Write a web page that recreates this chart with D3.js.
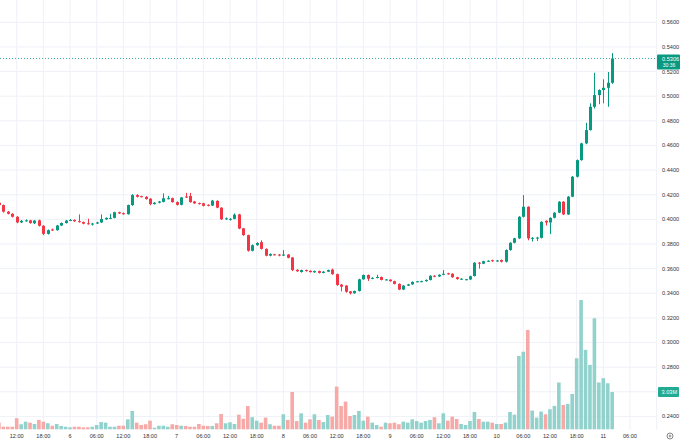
<!DOCTYPE html>
<html>
<head>
<meta charset="utf-8">
<script src="https://cdn.jsdelivr.net/npm/d3@7"></script>
<style>
  body { margin: 0; background: #fff; }
  svg { display: block; font-family: "Liberation Sans", Arial, sans-serif; }
</style>
</head>
<body>
<script>
const width = 680;
const height = 443;

// hourly candles, first one at day 5 08:00
const startTime = Date.UTC(2024, 2, 5, 8);

const opens = [
  .4135, .4116, .4062, .4045, .4021, .3975, .3985, .3992, .3968, .3992,
  .3948, .3882, .3918, .3912, .3950, .3970, .3990, .3995, .3985, .3978,
  .3968, .3958, .3966, .3975, .4000, .4008, .4012, .4058, .4050, .4042,
  .4116, .4197, .4188, .4183, .4168, .4124, .4135, .4142, .4168, .4172,
  .4140, .4118, .4185, .4190, .4145, .4132, .4130, .4118, .4112, .4150,
  .4095, .4000, .3996, .4004, .4040, .3927, .3872, .3745, .3790, .3815,
  .3760, .3705, .3716, .3714, .3706, .3714, .3690, .3590, .3572, .3588,
  .3582, .3570, .3580, .3565, .3575, .3592, .3555, .3470, .3462, .3415,
  .3400, .3418, .3513, .3548, .3518, .3525, .3532, .3508, .3510, .3498,
  .3476, .3430, .3462, .3472, .3492, .3494, .3498, .3508, .3542, .3536,
  .3550, .3562, .3558, .3530, .3513, .3510, .3512, .3540, .3648, .3640,
  .3660, .3668, .3660, .3670, .3656, .3751, .3810, .3846, .4021, .4102,
  .3846, .3846, .3850, .3988, .3975, .4013, .4054, .4143, .4040, .4184,
  .4346, .4481, .4617, .4725, .4914, .5009, .5050, .5068, .5109
];

const highs = [
  .4140, .4120, .4068, .4050, .4025, .3995, .4000, .3996, .3995, .3998,
  .3952, .3918, .3925, .3955, .3975, .3995, .4002, .4000, .4040, .3982,
  .4005, .3972, .3980, .4040, .4016, .4045, .4062, .4062, .4056, .4120,
  .4205, .4205, .4192, .4188, .4172, .4140, .4150, .4211, .4190, .4176,
  .4145, .4182, .4215, .4215, .4150, .4136, .4134, .4122, .4158, .4155,
  .4098, .4015, .4010, .4048, .4045, .3930, .3876, .3796, .3815, .3830,
  .3764, .3724, .3720, .3718, .3750, .3718, .3694, .3596, .3592, .3592,
  .3586, .3584, .3584, .3580, .3592, .3600, .3560, .3476, .3466, .3418,
  .3422, .3518, .3552, .3552, .3530, .3550, .3536, .3515, .3514, .3502,
  .3480, .3466, .3476, .3496, .3500, .3502, .3512, .3546, .3546, .3554,
  .3588, .3566, .3562, .3534, .3522, .3516, .3542, .3652, .3654, .3664,
  .3668, .3672, .3670, .3674, .3756, .3814, .3850, .4026, .4197, .4106,
  .3856, .3858, .3984, .3992, .4016, .4058, .4148, .4148, .4190, .4352,
  .4486, .4622, .4784, .4942, .5190, .5056, .5137, .5196, .5350
];

const lows = [
  .4110, .4055, .4040, .4015, .3968, .3970, .3980, .3965, .3962, .3942,
  .3872, .3876, .3905, .3908, .3946, .3966, .3986, .3980, .3974, .3960,
  .3958, .3950, .3962, .3970, .3996, .4002, .4008, .4044, .4038, .4038,
  .4110, .4178, .4178, .4160, .4115, .4120, .4130, .4138, .4162, .4136,
  .4112, .4114, .4175, .4135, .4125, .4120, .4105, .4106, .4108, .4090,
  .3995, .3996, .3990, .4000, .3920, .3866, .3738, .3740, .3786, .3755,
  .3700, .3700, .3708, .3700, .3702, .3684, .3580, .3574, .3568, .3576,
  .3568, .3566, .3560, .3562, .3572, .3550, .3460, .3415, .3405, .3390,
  .3396, .3414, .3510, .3500, .3514, .3520, .3504, .3504, .3494, .3472,
  .3425, .3426, .3458, .3468, .3488, .3490, .3494, .3504, .3530, .3532,
  .3546, .3550, .3526, .3510, .3508, .3505, .3508, .3536, .3600, .3636,
  .3656, .3655, .3656, .3650, .3650, .3745, .3805, .3840, .4015, .3830,
  .3820, .3825, .3845, .3950, .3880, .4008, .4050, .4035, .4035, .4180,
  .4340, .4476, .4610, .4720, .4900, .4935, .4942, .4914, .5100
];

const closes = [
  .4116, .4062, .4045, .4021, .3975, .3988, .3992, .3970, .3990, .3948,
  .3882, .3912, .3912, .3950, .3970, .3990, .3995, .3985, .3978, .3965,
  .3962, .3966, .3975, .4003, .4012, .4012, .4058, .4048, .4042, .4116,
  .4197, .4183, .4182, .4165, .4124, .4135, .4145, .4171, .4172, .4140,
  .4118, .4178, .4180, .4140, .4130, .4126, .4110, .4112, .4152, .4095,
  .4000, .4008, .4004, .4038, .3925, .3872, .3745, .3790, .3808, .3760,
  .3705, .3718, .3712, .3706, .3714, .3688, .3588, .3578, .3588, .3580,
  .3572, .3580, .3565, .3575, .3588, .3555, .3467, .3453, .3412, .3400,
  .3418, .3513, .3548, .3518, .3525, .3532, .3508, .3512, .3498, .3476,
  .3430, .3462, .3472, .3492, .3497, .3498, .3508, .3542, .3536, .3550,
  .3558, .3555, .3530, .3515, .3518, .3514, .3538, .3648, .3640, .3660,
  .3664, .3660, .3666, .3656, .3751, .3810, .3846, .4021, .4102, .3846,
  .3850, .3852, .3980, .3975, .4012, .4054, .4143, .4040, .4184, .4346,
  .4481, .4617, .4725, .4914, .5009, .5050, .5068, .5109, .5306
];

// volume in millions
const volumes = [
  .54, .21, .21, .21, .90, .41, .62, .54, .43, .76,
  .62, .49, .29, .43, .27, .21, .16, .21, .21, .16,
  .16, .21, .35, .59, .54, .21, .21, .29, .29, .81,
  1.49, .54, .35, .41, .70, .13, .29, .29, .21, .41,
  .35, .29, .27, .21, .21, .43, .29, .27, .27, .49,
  1.24, .49, .57, .43, 1.19, .86, 1.89, .98, .70, .54,
  .95, .41, .29, .29, 1.22, .76, 3.03, .67, 1.30, .54,
  .81, 1.22, .76, .59, 1.16, 1.03, 3.47, 1.89, 2.25, 1.08,
  1.16, 1.49, .70, 1.03, .54, .35, .21, .54, .49, .54,
  .41, .62, .54, .81, .67, .54, .67, .76, .98, .49,
  1.30, .70, 1.03, .84, .43, .35, .67, 1.41, .84, .62,
  .62, .54, .43, .43, .54, 1.41, 1.19, 5.96, 6.30, 8.07,
  1.52, .95, 1.44, 1.22, 1.63, 1.90, 3.80, 1.98, 2.06, 2.87,
  5.77, 10.5, 6.45, 5.23, 9.02, 3.80, 4.15, 3.74, 3.03
];

const priceTicks = [0.24, 0.26, 0.28, 0.30, 0.32, 0.34, 0.36, 0.38, 0.40, 0.42,
  0.44, 0.46, 0.48, 0.50, 0.52, 0.54, 0.56, 0.58];

const lastPrice = 0.5306;
const countdown = '30:36';
const lastVolumeLabel = '3.03M';

const upColor = '#089981';
const downColor = '#f23645';
const upVol = '#92d2cc';
const downVol = '#f7a9a7';
const gridColor = '#eef1f7';
const textColor = '#333';

const candles = opens.map((o, i) => ({
  time: new Date(startTime + i * 3600e3),
  open: o, high: highs[i], low: lows[i], close: closes[i], volume: volumes[i]
}));

const plotRight = 656;

const x = d3.scaleUtc()
  .domain([new Date(Date.UTC(2024, 2, 5, 12)), new Date(Date.UTC(2024, 2, 11, 0))])
  .range([16.7, 603.3]);

const y = d3.scaleLinear()
  .domain([0.24, 0.56])
  .range([416.4, 22.3]);

const yVol = d3.scaleLinear()
  .domain([0, 10.5])
  .range([429.3, 300]);

const svg = d3.select('body')
  .append('svg')
  .attr('width', width)
  .attr('height', height);

// grid
const timeTicks = d3.utcHour.every(6).range(x.invert(-20), x.invert(plotRight + 10));

svg.append('g')
  .selectAll('line')
  .data(timeTicks)
  .join('line')
  .attr('x1', d => x(d)).attr('x2', d => x(d))
  .attr('y1', 0).attr('y2', 430)
  .attr('stroke', gridColor);

svg.append('g')
  .selectAll('line')
  .data(priceTicks)
  .join('line')
  .attr('x1', 0).attr('x2', plotRight)
  .attr('y1', d => y(d)).attr('y2', d => y(d))
  .attr('stroke', gridColor);

// volume
const barW = 3.6;
svg.append('g')
  .selectAll('rect')
  .data(candles)
  .join('rect')
  .attr('x', d => x(d.time) - barW / 2)
  .attr('width', barW)
  .attr('y', d => yVol(d.volume))
  .attr('height', d => yVol(0) - yVol(d.volume))
  .attr('fill', d => d.close >= d.open ? upVol : downVol);

// candles
const bodyW = 3;
const cg = svg.append('g')
  .selectAll('g')
  .data(candles)
  .join('g')
  .attr('fill', d => d.close >= d.open ? upColor : downColor)
  .attr('stroke', d => d.close >= d.open ? upColor : downColor);

cg.append('line')
  .attr('x1', d => Math.round(x(d.time)) + 0.5)
  .attr('x2', d => Math.round(x(d.time)) + 0.5)
  .attr('y1', d => y(d.high))
  .attr('y2', d => y(d.low))
  .attr('stroke-width', 1);

cg.append('rect')
  .attr('stroke', 'none')
  .attr('x', d => Math.round(x(d.time)) + 0.5 - bodyW / 2)
  .attr('width', bodyW)
  .attr('y', d => y(Math.max(d.open, d.close)))
  .attr('height', d => Math.max(1, Math.abs(y(d.open) - y(d.close))));

// last price line
svg.append('line')
  .attr('x1', 0).attr('x2', plotRight)
  .attr('y1', y(lastPrice)).attr('y2', y(lastPrice))
  .attr('stroke', upColor)
  .attr('stroke-width', 0.8)
  .attr('stroke-dasharray', '1,2');

// price axis labels (the volume badge hides the one under it)
const lastVol = volumes[volumes.length - 1];
svg.append('g')
  .selectAll('text')
  .data(priceTicks.filter(d => Math.abs(y(d) - yVol(lastVol)) > 8))
  .join('text')
  .attr('x', 662)
  .attr('y', d => y(d))
  .attr('dy', '0.35em')
  .attr('font-size', 5.6)
  .attr('fill', textColor)
  .text(d => d3.format('.4f')(d));

// last price badge
const badge = svg.append('g');
badge.append('rect')
  .attr('x', 657).attr('y', y(lastPrice) - 4)
  .attr('width', 23).attr('height', 15)
  .attr('rx', 1)
  .attr('fill', upColor);
badge.append('text')
  .attr('x', 662).attr('y', y(lastPrice) + 2)
  .attr('font-size', 5.6)
  .attr('fill', '#fff')
  .text(d3.format('.4f')(lastPrice));
badge.append('text')
  .attr('x', 662.8).attr('y', y(lastPrice) + 8.6)
  .attr('font-size', 5)
  .attr('fill', '#fff')
  .text(countdown);

// last volume badge
svg.append('rect')
  .attr('x', 658).attr('y', yVol(lastVol) - 5)
  .attr('width', 21).attr('height', 10)
  .attr('rx', 1)
  .attr('fill', '#22ab94');
svg.append('text')
  .attr('x', 661.5).attr('y', yVol(lastVol))
  .attr('dy', '0.35em')
  .attr('font-size', 5.6)
  .attr('fill', '#fff')
  .text(lastVolumeLabel);

// time axis labels
const fmtTime = d => d.getUTCHours() === 0 ? d3.utcFormat('%-d')(d) : d3.utcFormat('%H:%M')(d);
svg.append('g')
  .selectAll('text')
  .data(timeTicks.filter(d => x(d) > 4 && x(d) < 645))
  .join('text')
  .attr('x', d => x(d))
  .attr('y', 436)
  .attr('dy', '0.35em')
  .attr('text-anchor', 'middle')
  .attr('font-size', 5.6)
  .attr('fill', textColor)
  .text(fmtTime);

// settings icon bottom right
const icon = svg.append('g').attr('transform', 'translate(670,436)');
icon.append('circle').attr('r', 3).attr('fill', 'none').attr('stroke', '#555').attr('stroke-width', 0.7);
icon.append('circle').attr('r', 1).attr('fill', 'none').attr('stroke', '#555').attr('stroke-width', 0.6);
</script>
</body>
</html>
